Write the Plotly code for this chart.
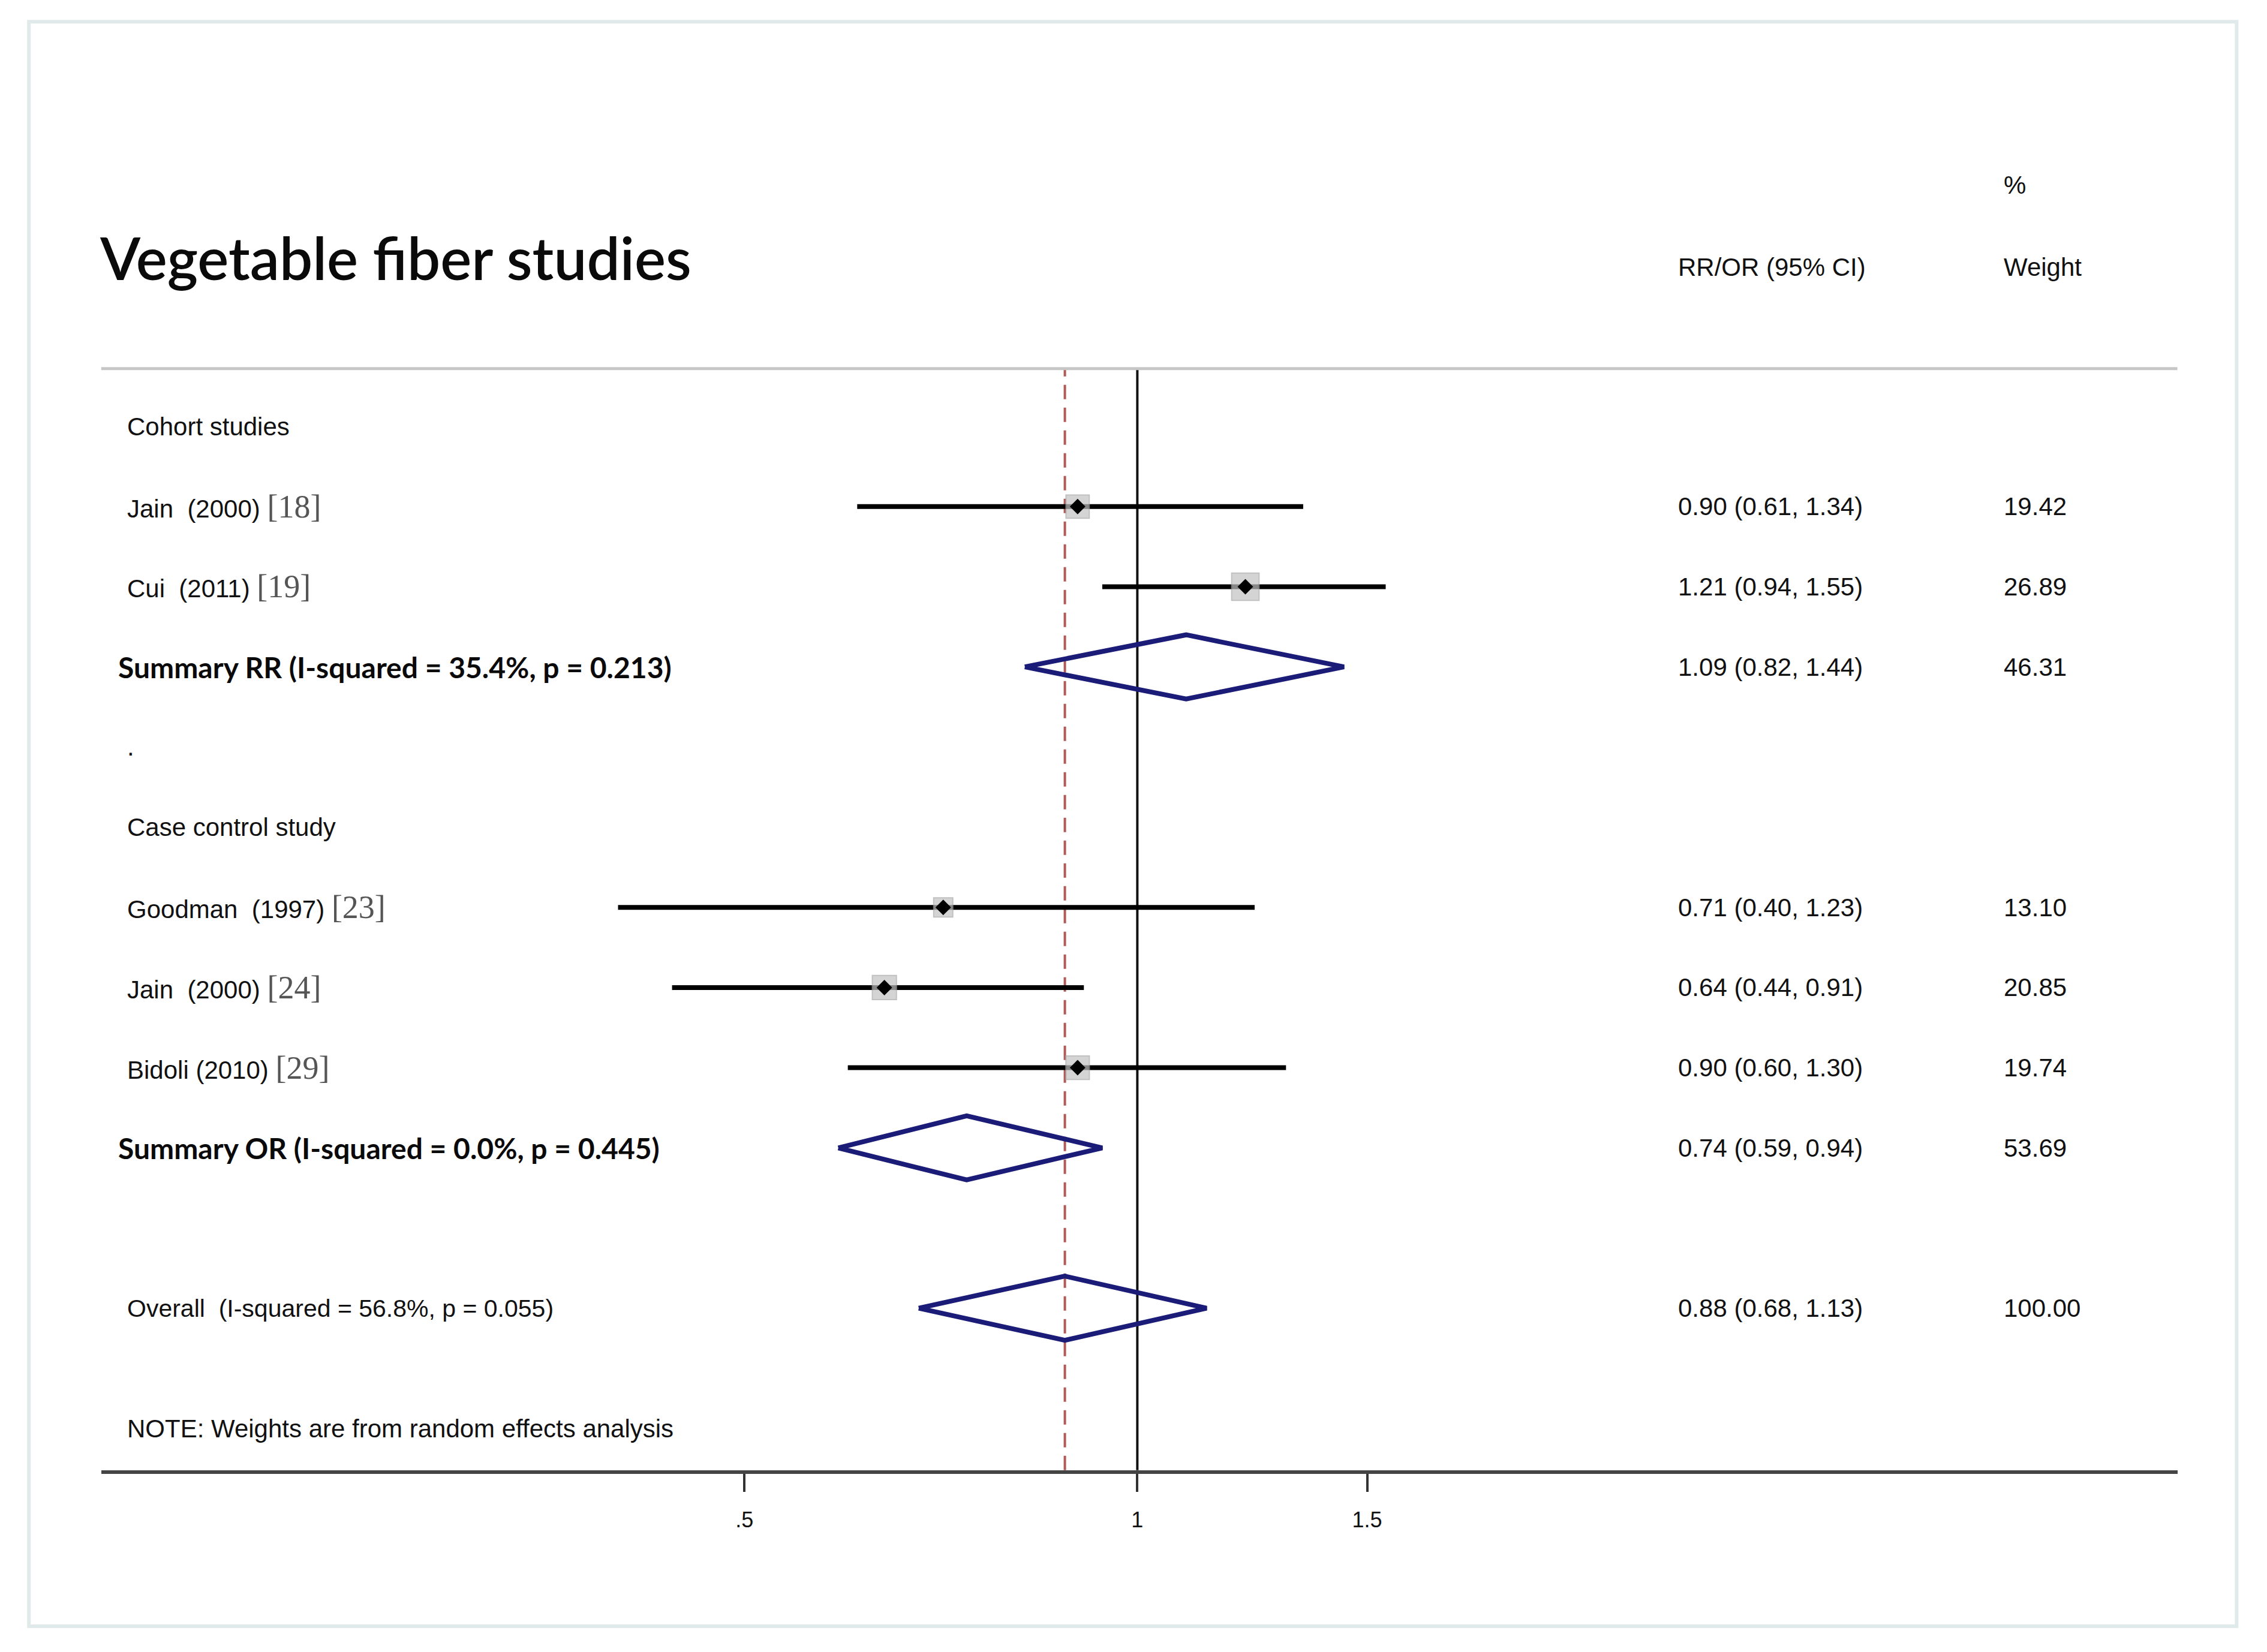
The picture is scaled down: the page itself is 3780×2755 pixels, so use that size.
import plotly.graph_objects as go

# individual studies
study_names = ["Jain\u00a0\u00a0(2000)", "Cui\u00a0\u00a0(2011)", "Goodman\u00a0\u00a0(1997)",
               "Jain\u00a0\u00a0(2000)", "Bidoli\u00a0(2010)"]
study_refs = ["[18]", "[19]", "[23]", "[24]", "[29]"]
study_est = [0.90, 1.21, 0.71, 0.64, 0.90]
study_lo = [0.61, 0.94, 0.40, 0.44, 0.60]
study_hi = [1.34, 1.55, 1.23, 0.91, 1.30]
study_weight = [19.42, 26.89, 13.10, 20.85, 19.74]
study_rows = [2, 3, 7, 8, 9]

# pooled estimates
summ_names = ["Summary RR (I-squared = 35.4%, p = 0.213)",
              "Summary OR (I-squared = 0.0%, p = 0.445)",
              "Overall\u00a0\u00a0(I-squared = 56.8%, p = 0.055)"]
summ_est = [1.09, 0.74, 0.88]
summ_lo = [0.82, 0.59, 0.68]
summ_hi = [1.44, 0.94, 1.13]
summ_weight = [46.31, 53.69, 100.00]
summ_rows = [4, 10, 12]
summ_bold = [True, True, False]

# group headings
group_names = ["Cohort studies", ".", "Case control study"]
group_rows = [1, 5, 6]
note_text = "NOTE: Weights are from random effects analysis"
note_row = 13.5

tick_vals = [0.5, 1, 1.5]
tick_text = [".5", "1", "1.5"]
null_value = 1

# page has an 8px body margin, so the figure is a little smaller than the window
OFF = 8
W, H = 3780 - 2 * OFF, 2755 - 2 * OFF
# layout measured on a 1568 px wide view of the reference
S = 3780 / 1568
px = lambda v: (v * S - OFF) / W
py = lambda v: 1 - (v * S - OFF) / H

x_dom = [px(70), px(1506)]
y_dom = [py(1017), py(255)]

sans = "Liberation Sans, Arial, sans-serif"
serif = "Liberation Serif, Times New Roman, serif"
cal = "Lato, Carlito, sans-serif"
txt_col = "#111111"

fig = go.Figure()

# confidence interval lines
ci_x, ci_y = [], []
for lo, hi, r in zip(study_lo, study_hi, study_rows):
    ci_x += [lo, hi, None]
    ci_y += [r, r, None]
fig.add_trace(go.Scatter(x=ci_x, y=ci_y, mode="lines",
                         line=dict(color="black", width=8), hoverinfo="skip"))

# weight boxes
fig.add_trace(go.Scatter(x=study_est, y=study_rows, mode="markers",
                         marker=dict(symbol="square", color="#c2c2c2",
                                     size=[8.8 * w ** 0.5 for w in study_weight],
                                     line=dict(color="#a8a8a8", width=2))))
# point estimates
fig.add_trace(go.Scatter(x=study_est, y=study_rows, mode="markers",
                         marker=dict(symbol="diamond", color="black", size=20)))

# pooled diamonds
half_h = 0.4
for e, lo, hi, r in zip(summ_est, summ_lo, summ_hi, summ_rows):
    fig.add_trace(go.Scatter(x=[lo, e, hi, e, lo], y=[r, r - half_h, r, r + half_h, r],
                             mode="lines", line=dict(color="#1b1b78", width=8)))

# reference lines
fig.add_shape(type="line", xref="x", yref="y domain", x0=null_value, x1=null_value,
              y0=0, y1=1, line=dict(color="#111111", width=4), layer="below")
fig.add_shape(type="line", xref="x", yref="y domain", x0=summ_est[-1], x1=summ_est[-1],
              y0=0, y1=1, line=dict(color="#b05a58", width=4, dash="24px,14px"), layer="below")
# top separator
fig.add_shape(type="line", xref="paper", yref="paper", x0=x_dom[0], x1=x_dom[1],
              y0=y_dom[1], y1=y_dom[1], line=dict(color="#c6c6c6", width=5))
# outer frame
fig.add_shape(type="rect", xref="paper", yref="paper", x0=px(20), x1=px(1547),
              y0=py(1125), y1=py(15), line=dict(color="#e1eaea", width=6))

ann = []
def label(x, y, text, size=42, family=sans, weight="normal", yref="y", color=txt_col):
    ann.append(dict(x=x, y=y, xref="paper", yref=yref, text=text, showarrow=False,
                    xanchor="left", yanchor="middle",
                    font=dict(family=family, size=size, color=color, weight=weight)))

# title and column headers
label(px(68), py(178), "Vegetable fiber studies", size=98, family=cal, weight=600,
      yref="paper", color="#0a0a0a")
label(px(1160), py(185), "RR/OR (95% CI)", yref="paper")
label(px(1385), py(128), "%", yref="paper")
label(px(1385), py(185), "Weight", yref="paper")

for name, r in zip(group_names, group_rows):
    label(px(87), r, name)

for name, ref, e, lo, hi, w, r in zip(study_names, study_refs, study_est, study_lo,
                                       study_hi, study_weight, study_rows):
    label(px(87), r, name + "\u00a0<span style='font-family:" + serif +
          ";font-size:54px;fill:#555555'>" + ref + "</span>")
    label(px(1160), r, f"{e:.2f} ({lo:.2f}, {hi:.2f})")
    label(px(1385), r, f"{w:.2f}")

for name, e, lo, hi, w, r, b in zip(summ_names, summ_est, summ_lo, summ_hi,
                                     summ_weight, summ_rows, summ_bold):
    if b:
        label(px(81), r, name, size=48, family=cal, weight="bold", color="#0a0a0a")
    else:
        label(px(87), r, name, size=41)
    label(px(1160), r, f"{e:.2f} ({lo:.2f}, {hi:.2f})")
    label(px(1385), r, f"{w:.2f}")

label(px(87), note_row, note_text)

fig.update_layout(
    width=W, height=H,
    margin=dict(l=0, r=0, t=0, b=0),
    paper_bgcolor="white", plot_bgcolor="white",
    showlegend=False,
    annotations=ann,
    xaxis=dict(type="log", range=[-0.794, 0.797], domain=x_dom,
               showline=True, linecolor="#444444", linewidth=6,
               ticks="outside", tickvals=tick_vals, ticktext=tick_text,
               ticklen=30, tickwidth=4, tickcolor="#333333",
               ticklabelstandoff=16,
               tickfont=dict(family=sans, size=36, color="#111111"),
               showgrid=False, zeroline=False, anchor="y"),
    yaxis=dict(range=[14.02, 0.279], domain=y_dom, visible=False),
)

fig.write_html("out.html")
